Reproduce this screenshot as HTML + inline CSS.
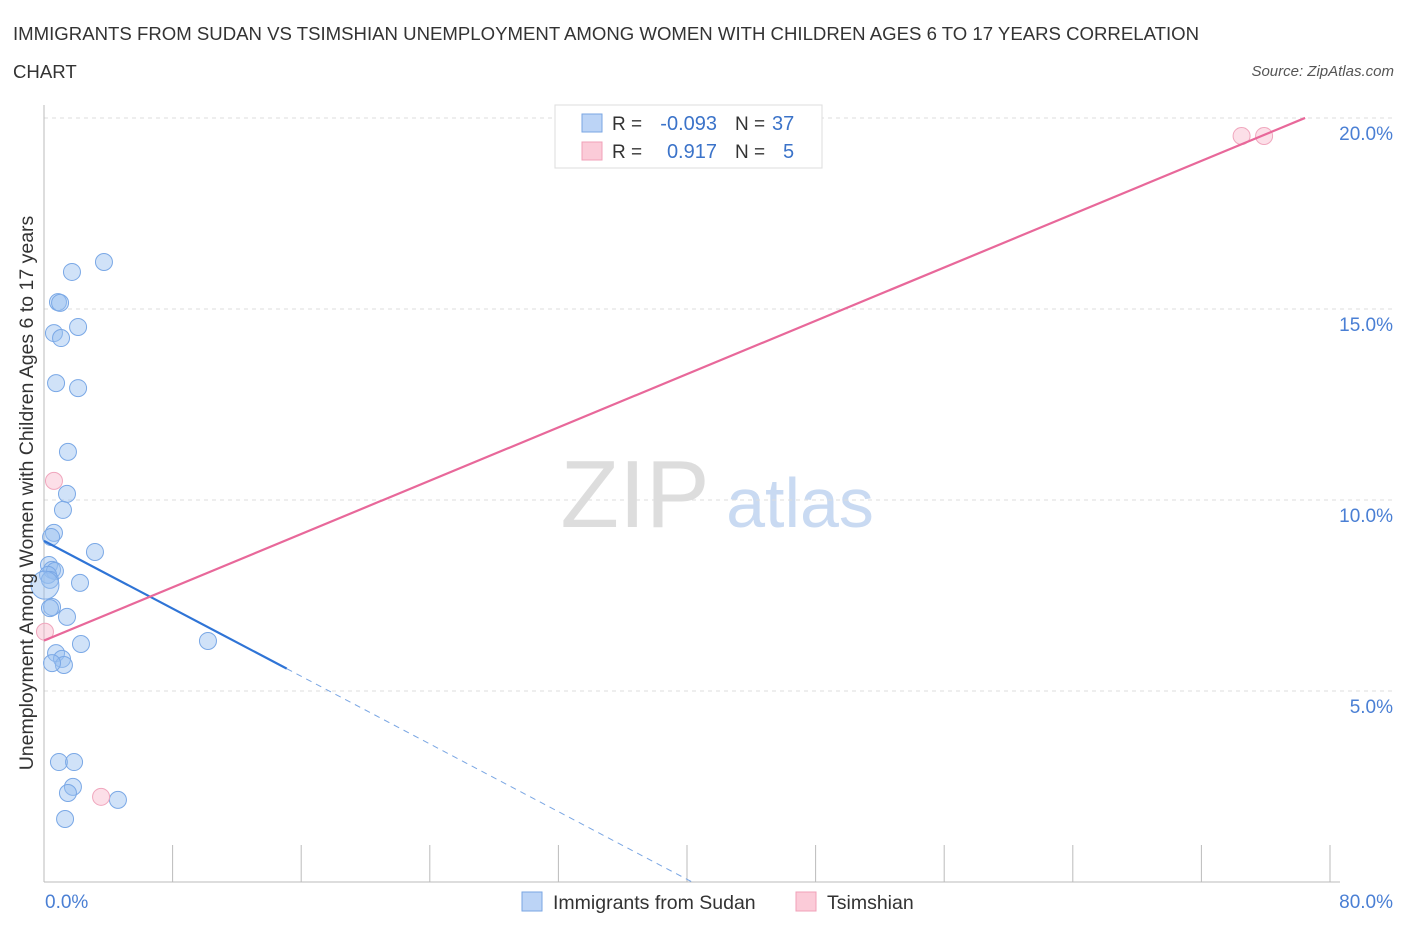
<!DOCTYPE html>
<html><head><meta charset="utf-8"><style>
body{margin:0;background:#fff;font-family:"Liberation Sans",sans-serif;}
svg text{font-family:"Liberation Sans",sans-serif;}
</style></head><body>
<svg id="c" width="1406" height="930">
<text x="13" y="40" font-size="18.6" fill="#333">IMMIGRANTS FROM SUDAN VS TSIMSHIAN UNEMPLOYMENT AMONG WOMEN WITH CHILDREN AGES 6 TO 17 YEARS CORRELATION</text>
<text x="13" y="78" font-size="18.6" fill="#333">CHART</text>
<text x="1394" y="76" font-size="15" fill="#555" font-style="italic" text-anchor="end">Source: ZipAtlas.com</text>
<text x="635" y="527" font-size="96" fill="#ddd" font-family="Liberation Serif" text-anchor="middle">ZIP</text>
<text x="800" y="527" font-size="70" fill="#c9daf2" text-anchor="middle">atlas</text>
<g id="grid"></g><g id="marks"></g>
<text x="33" y="493" font-size="19.5" fill="#333" text-anchor="middle" transform="rotate(-90 33 493)">Unemployment Among Women with Children Ages 6 to 17 years</text>
<g>
<rect x="555" y="105" width="267" height="63" fill="#fff" stroke="#ddd"/>
<rect x="582" y="114" width="20" height="18" fill="#bcd4f6" stroke="#7aa6e3"/>
<rect x="582" y="142" width="20" height="18" fill="#fbcbd8" stroke="#f0a0b8"/>
<text x="612" y="130" font-size="19" fill="#333">R =</text>
<text x="717" y="130" font-size="20" fill="#3b73c9" text-anchor="end">-0.093</text>
<text x="735" y="130" font-size="19" fill="#333">N =</text>
<text x="772" y="130" font-size="20" fill="#3b73c9">37</text>
<text x="612" y="158" font-size="19" fill="#333">R =</text>
<text x="717" y="158" font-size="20" fill="#3b73c9" text-anchor="end">0.917</text>
<text x="735" y="158" font-size="19" fill="#333">N =</text>
<text x="783" y="158" font-size="20" fill="#3b73c9">5</text>
</g>
<g>
<rect x="522" y="892" width="20" height="19" fill="#bcd4f6" stroke="#7aa6e3"/>
<text x="553" y="909" font-size="19.5" fill="#333">Immigrants from Sudan</text>
<rect x="796" y="892" width="20" height="19" fill="#fbcbd8" stroke="#f0a0b8"/>
<text x="827" y="909" font-size="19.5" fill="#333">Tsimshian</text>
</g>
</svg>
<script>
const blueX=[3.73,1.74,0.87,1.0,2.12,0.62,1.06,0.75,2.12,1.49,1.43,1.18,0.62,0.44,3.17,0.31,0.5,0.68,0.25,0.37,0.06,2.24,0.5,0.37,1.43,2.30,10.2,0.75,1.12,1.24,0.5,0.93,1.87,1.80,1.49,4.6,1.31];
const blueY=[16.23,15.97,15.18,15.16,14.53,14.37,14.24,13.06,12.93,11.26,10.16,9.74,9.14,9.03,8.64,8.30,8.17,8.14,8.04,7.91,7.77,7.83,7.20,7.17,6.94,6.23,6.31,5.99,5.84,5.68,5.73,3.14,3.14,2.49,2.33,2.15,1.65];
const pinkX=[0.62,0.06,3.55,74.5,75.9];
const pinkY=[10.50,6.55,2.23,19.53,19.53];
const blueTrend=[8.93,-0.2215];
const blueSolidEnd=15.1;
const pinkTrend=[6.32,0.1744];
const pinkEnd=78.45;
const yTicks=[5,10,15,20];
const yTickLabels=["5.0%","10.0%","15.0%","20.0%"];
const xTickLabels=["0.0%","80.0%"];
const ns="http://www.w3.org/2000/svg";
const X=v=>44+v*16.075, Y=v=>882-v*38.2;
function mk(p,t,a){const e=document.createElementNS(ns,t);for(const k in a)e.setAttribute(k,a[k]);p.appendChild(e);return e;}
const g=document.getElementById('grid'),m=document.getElementById('marks');
yTicks.forEach((t,i)=>{
 const l=mk(g,'line',{x1:44,x2:1395,y1:Y(t),y2:Y(t),stroke:'#ddd','stroke-dasharray':'4,4'});
 
 
 const tx=mk(g,'text',{x:1393,y:Y(t)+22,'font-size':19,fill:'#4a7fd4','text-anchor':'end'});tx.textContent=yTickLabels[i];
 
 
});
mk(g,'line',{x1:44,x2:44,y1:105,y2:882,stroke:'#bbb'});
mk(g,'line',{x1:44,x2:1340,y1:882,y2:882,stroke:'#bbb'});
for(let i=1;i<=10;i++){const tk=mk(g,'line',{x1:X(i*8),x2:X(i*8),y1:845,y2:882,stroke:'#bbb'});
 
 }
const xl0=mk(g,'text',{x:45,y:908,'font-size':19,fill:'#4a7fd4'});xl0.textContent=xTickLabels[0];


const xl1=mk(g,'text',{x:1393,y:908,'font-size':19,fill:'#4a7fd4','text-anchor':'end'});xl1.textContent=xTickLabels[1];


blueX.forEach((v,i)=>{const c=mk(m,'circle',{cx:X(v),cy:Y(blueY[i]),r:v<0.1?14:8.5,fill:'rgba(150,190,240,0.45)',stroke:'#7aa8e6','stroke-width':1});
 
 });
pinkX.forEach((v,i)=>{const c=mk(m,'circle',{cx:X(v),cy:Y(pinkY[i]),r:8.5,fill:'rgba(248,185,205,0.45)',stroke:'#f0a6bd','stroke-width':1});
 
 });
const bz=-blueTrend[0]/blueTrend[1];
const b1=mk(m,'line',{x1:X(0),y1:Y(blueTrend[0]),x2:X(blueSolidEnd),y2:Y(blueTrend[0]+blueTrend[1]*blueSolidEnd),stroke:'#2f74d6','stroke-width':2.2});


const b2=mk(m,'line',{x1:X(blueSolidEnd),y1:Y(blueTrend[0]+blueTrend[1]*blueSolidEnd),x2:X(bz),y2:Y(0),stroke:'#7aa6e3','stroke-width':1,'stroke-dasharray':'6,5'});


const p1=mk(m,'line',{x1:X(0),y1:Y(pinkTrend[0]),x2:X(pinkEnd),y2:Y(pinkTrend[0]+pinkTrend[1]*pinkEnd),stroke:'#e8689a','stroke-width':2.2});


</script>
</body></html>
